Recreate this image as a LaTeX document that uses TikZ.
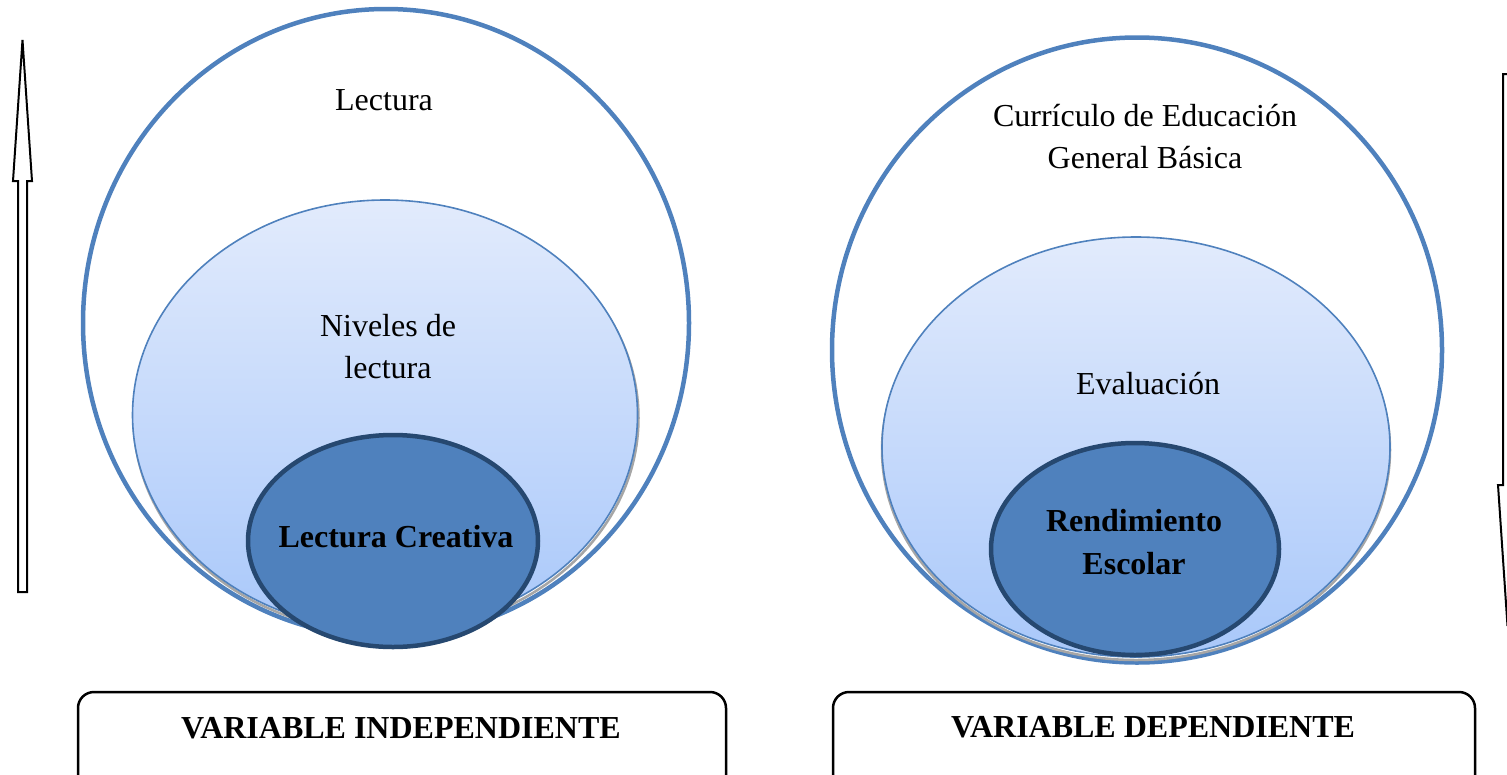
\documentclass[tikz,border=0pt]{standalone}
\usepackage{fontspec}
\setmainfont{Liberation Serif}
\usetikzlibrary{shapes.geometric}
\definecolor{outerblue}{HTML}{4F81BD}
\definecolor{innerfill}{HTML}{4F81BD}
\definecolor{innerline}{HTML}{264870}
\definecolor{midtop}{HTML}{E2EBFC}
\definecolor{midbot}{HTML}{A9C8FA}
\tikzset{
  outerell/.style={ellipse, draw=outerblue, line width=4.5pt, inner sep=0pt},
  midell/.style={ellipse, draw=outerblue, line width=1.6pt, top color=midtop, bottom color=midbot, inner sep=0pt},
  shadowell/.style={ellipse, draw=gray!70, line width=2.5pt, inner sep=0pt},
  innerell/.style={ellipse, draw=innerline, fill=innerfill, line width=4.5pt, inner sep=0pt},
  lbl/.style={font=\fontsize{32}{42}\selectfont, align=center, inner sep=0pt},
  blbl/.style={font=\fontsize{32}{43}\selectfont\bfseries, align=center, inner sep=0pt},
  varbox/.style={draw=black, line width=2.5pt, rounded corners=16pt},
  arrowshape/.style={draw=black, line width=2pt, fill=white, line join=miter}
}
\begin{document}
\begin{tikzpicture}[x=1pt,y=-1pt]
\useasboundingbox (0,0) rectangle (1507,774);
\clip (0,0) rectangle (1507,774);
% left group
\node[outerell, minimum width=606, minimum height=628] (LO) at (386,323) {};
\node[shadowell, minimum width=505, minimum height=430] (LS) at (386,418) {};
\node[midell, minimum width=505, minimum height=430] (LM) at (385,415) {};
\node[innerell, minimum width=290, minimum height=212] (LI) at (393,541) {};
\node[lbl] (t1) at (384,100) {Lectura};
\node[lbl] (t2) at (388,347) {Niveles de\\lectura};
\node[blbl] (t3) at (396,537) {Lectura Creativa};
% right group
\node[outerell, minimum width=610, minimum height=625] (RO) at (1137,350) {};
\node[shadowell, minimum width=508, minimum height=420] (RS) at (1136,450) {};
\node[midell, minimum width=508, minimum height=420] (RM) at (1136,447) {};
\node[innerell, minimum width=288, minimum height=212] (RI) at (1135,549) {};
\node[lbl] (t4) at (1145,137) {Currículo de Educación\\General Básica};
\node[lbl] (t5) at (1148,384) {Evaluación};
\node[blbl] (t6) at (1134,542) {Rendimiento\\Escolar};
% boxes
\draw[varbox] (78,800) -- (78,692) -- (726,692) -- (726,800);
\node[blbl] (v1) at (401,728) {VARIABLE INDEPENDIENTE};
\draw[varbox] (833,800) -- (833,692) -- (1475,692) -- (1475,800);
\node[blbl] (v2) at (1153,727) {VARIABLE DEPENDIENTE};
% left arrow (up)
\draw[arrowshape] (18,592) -- (18,181) -- (13,181) -- (22.5,40) -- (32,181) -- (27,181) -- (27,592) -- cycle;
% right arrow (down)
\draw[arrowshape] (1503,74) -- (1503,485) -- (1498,485) -- (1507.5,626) -- (1517,485) -- (1512,485) -- (1512,74) -- cycle;
\end{tikzpicture}
\end{document}
